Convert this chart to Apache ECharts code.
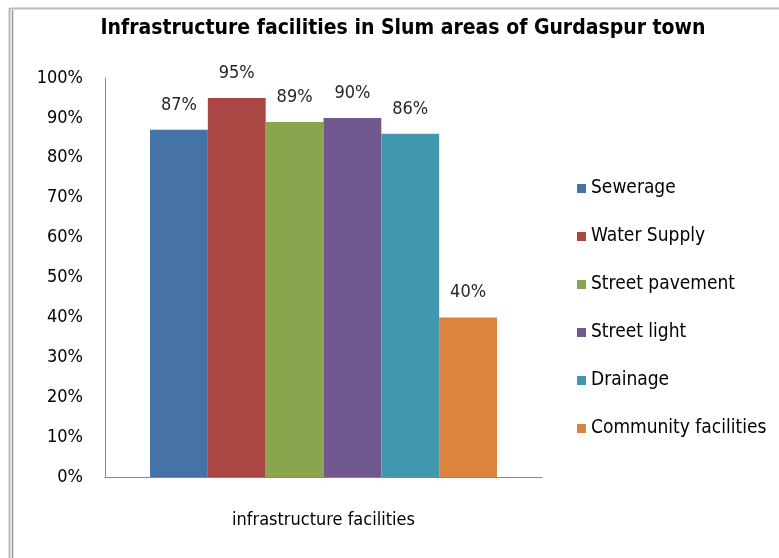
<!DOCTYPE html>
<html>
<head>
<meta charset="utf-8">
<script src="https://cdn.jsdelivr.net/npm/echarts@6/dist/echarts.min.js"></script>
<style>
html,body{margin:0;padding:0;background:#fff;}
#c{width:779px;height:558px;}
</style>
</head>
<body>
<div id="c"></div>
<script>
var title = 'Infrastructure facilities in Slum areas of Gurdaspur town';
var categories = ['infrastructure facilities'];
var seriesNames = ['Sewerage', 'Water Supply', 'Street pavement', 'Street light', 'Drainage', 'Community facilities'];
var seriesValues = [87, 95, 89, 90, 86, 40];
var seriesColors = ['#4572A7', '#AA4643', '#89A54E', '#71588F', '#4198AF', '#DB843D'];
var yTicks = [0, 10, 20, 30, 40, 50, 60, 70, 80, 90, 100];

var FONT = "'Liberation Sans Narrow', 'DejaVu Sans Condensed', sans-serif";
var chart = echarts.init(document.getElementById('c'), null, {renderer: 'canvas'});

var series = seriesNames.map(function (n, i) {
  return {
    name: n,
    type: 'bar',
    data: [seriesValues[i]],
    itemStyle: {color: seriesColors[i]},
    barGap: '0%',
    barCategoryGap: '20.6%',
    label: {
      show: true, position: 'top', distance: 16,
      formatter: '{c}%',
      color: '#262626', fontSize: 18, fontFamily: FONT
    }
  };
});

chart.setOption({
  backgroundColor: '#fff',
  animation: false,
  title: {
    text: title, left: 398, top: 13, textAlign: 'center',
    textStyle: {fontSize: 21, fontWeight: 'bold', color: '#000', fontFamily: FONT}
  },
  legend: {
    orient: 'vertical', left: 572, top: 174,
    itemWidth: 9, itemHeight: 9, itemGap: 29,
    icon: 'rect',
    textStyle: {fontSize: 19, color: '#000', fontFamily: FONT},
    data: seriesNames
  },
  grid: {left: 105, right: 237, top: 78, bottom: 81, containLabel: false},
  xAxis: {
    type: 'category', data: categories,
    axisLine: {lineStyle: {color: '#888', width: 1}},
    axisTick: {show: false},
    axisLabel: {margin: 34, fontSize: 18, color: '#000', fontFamily: FONT}
  },
  yAxis: {
    type: 'value', min: yTicks[0], max: yTicks[yTicks.length - 1], interval: 10,
    axisLine: {show: true, lineStyle: {color: '#888', width: 1}},
    axisTick: {show: false},
    splitLine: {show: false},
    axisLabel: {formatter: '{value}%', margin: 22, fontSize: 18, color: '#000', fontFamily: FONT}
  },
  graphic: [
    {type: 'line', shape: {x1: 9.5, y1: 8.5, x2: 779, y2: 8.5}, style: {stroke: '#bbb', lineWidth: 2}},
    {type: 'line', shape: {x1: 9.5, y1: 8, x2: 9.5, y2: 558}, style: {stroke: '#bbb', lineWidth: 2}},
    {type: 'line', shape: {x1: 12.5, y1: 10, x2: 12.5, y2: 558}, style: {stroke: '#999', lineWidth: 1.5}}
  ],
  series: series
});
</script>
</body>
</html>
